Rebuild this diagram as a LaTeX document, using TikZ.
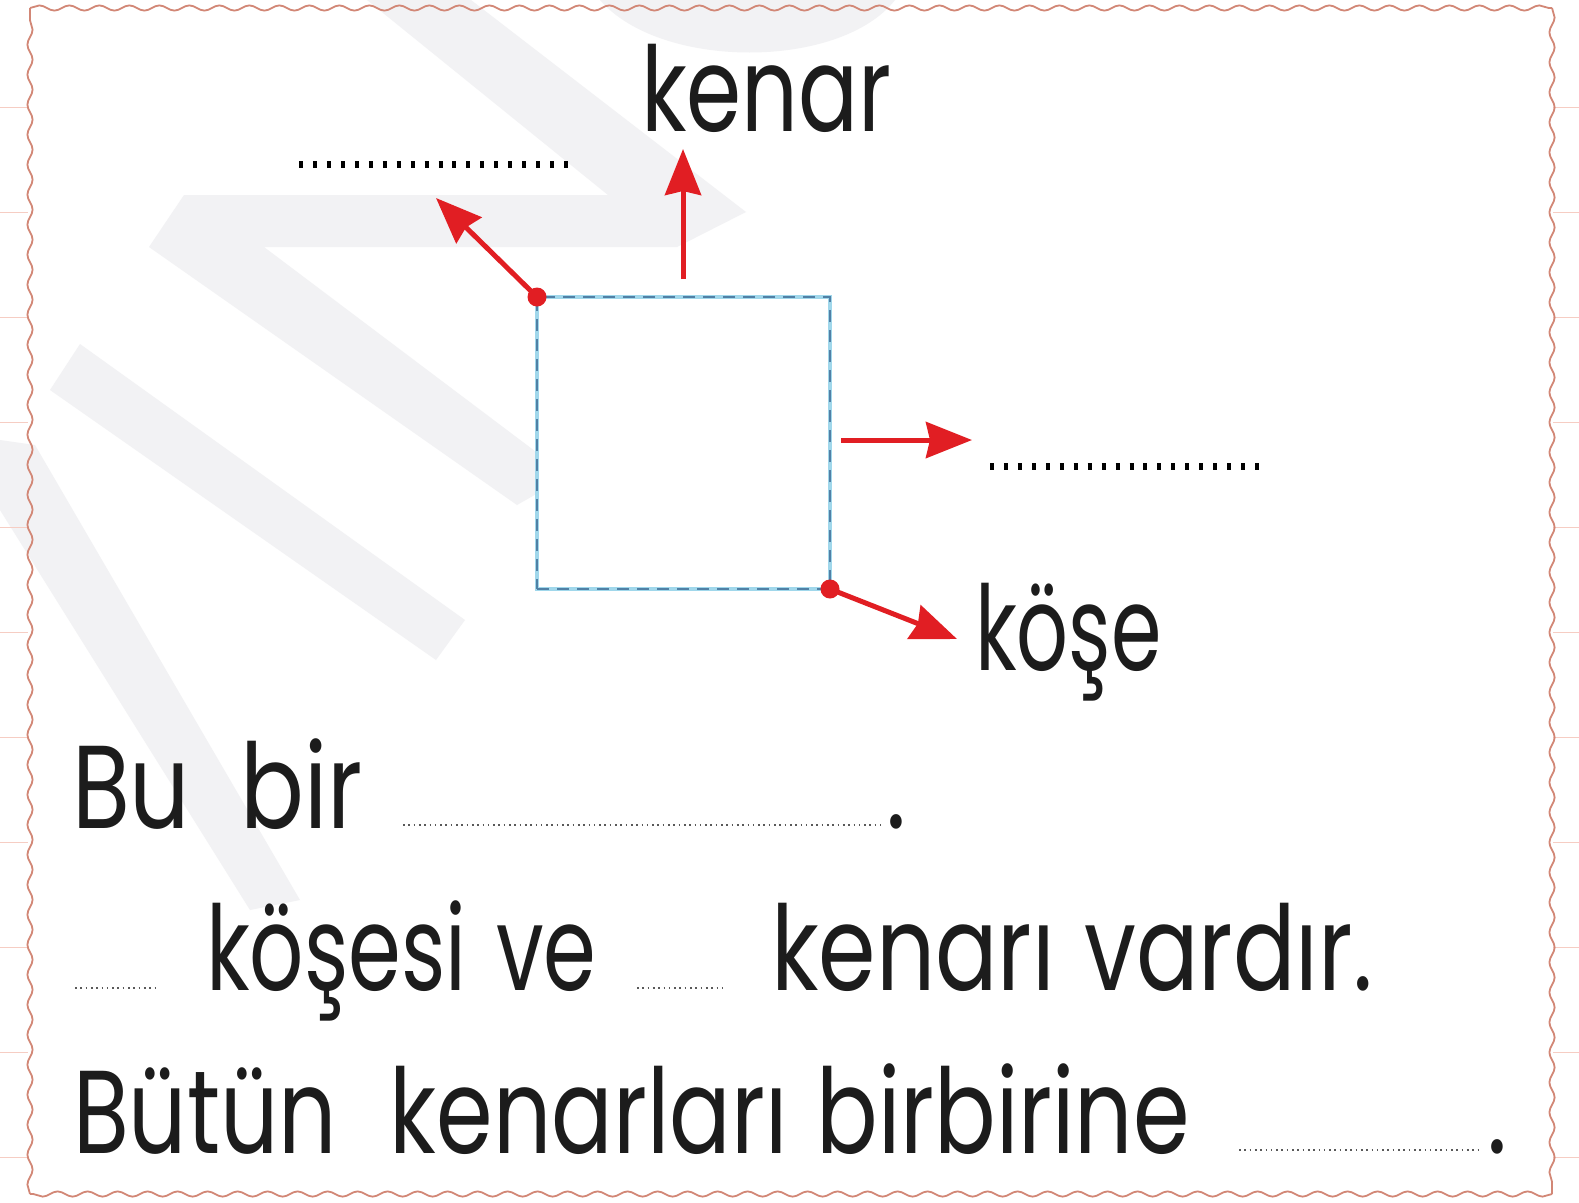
\documentclass[tikz,border=0pt]{standalone}
\usepackage{graphicx}
\usepackage{fontspec}
\setmainfont{Poppins}[FakeStretch=0.8]
\usetikzlibrary{decorations.pathmorphing,arrows.meta}
\definecolor{wmgray}{RGB}{242,242,244}
\definecolor{bordercol}{RGB}{210,135,118}
\definecolor{notecol}{RGB}{246,205,195}
\definecolor{arrred}{RGB}{225,30,35}
\definecolor{sqlight}{RGB}{160,215,235}
\definecolor{sqdark}{RGB}{80,128,165}
\definecolor{inkcol}{RGB}{28,28,28}
\tikzset{
  wm/.style={fill=wmgray},
  wavy/.style={draw=bordercol, line width=1.8pt, decorate,
    decoration={snake, segment length=30pt, amplitude=2.6pt}},
  noteline/.style={draw=notecol, line width=1pt},
  sqbox/.style={draw=sqlight, fill=white, line width=4pt, inner sep=0pt, outer sep=0pt,
    minimum width=293pt, minimum height=292pt,
    postaction={draw=sqdark, line width=2pt, dash pattern=on 12pt off 8pt}},
  reddot/.style={circle, fill=arrred, inner sep=0pt, minimum size=19pt},
  redarrow/.style={draw=arrred, line width=5pt, -{Stealth[length=46pt,width=36pt,inset=4pt]}},
  bigdots/.style={draw=black, line width=7pt, dash pattern=on 4pt off 9.95pt},
  blankdots/.style={draw=black!65, line width=2.5pt, dash pattern=on 1.6pt off 3.7pt},
  txt/.style={inner sep=0pt, outer sep=0pt, anchor=base west, text=inkcol,
    font=\fontsize{118}{130}\selectfont}
}
\begin{document}
\begin{tikzpicture}[x=1pt,y=-1pt]
\useasboundingbox (0,0) rectangle (1579,1202);
\fill[white] (0,0) rectangle (1579,1202);
% watermark
\fill[wm] (367,0) -- (471,0) -- (746,212) -- (677,247) -- (264,247) -- (568,476)
  -- (517,505) -- (149,247) -- (184,195) -- (608,195) -- cycle;
\fill[wm] (80,344) -- (465,620) -- (436,660) -- (50,390) -- cycle;
\fill[wm] (0,440) -- (35,445) -- (300,900) -- (250,910) -- (0,510) -- cycle;
\fill[wm] (600,0) .. controls (660,70) and (840,70) .. (895,0) -- cycle;
% notebook lines outside the frame
\foreach \k in {0,...,10} {
  \draw[noteline] (0,107+105*\k) -- (28,107+105*\k);
  \draw[noteline] (1553,107+105*\k) -- (1579,107+105*\k);
}
% wavy frame
\draw[wavy] (30,8) -- (1552,8);
\draw[wavy] (1552,8) -- (1552,1194);
\draw[wavy] (1552,1194) -- (30,1194);
\draw[wavy] (30,1194) -- (30,8);
% square
\node[sqbox] (sq) at (683.5,443) {};
\node[reddot] (dtl) at (sq.north west) {};
\node[reddot] (dbr) at (sq.south east) {};
\coordinate (nwtip) at (436,198);
\coordinate (upstart) at (683,279);
\coordinate (uptip) at (683,149);
\coordinate (rstart) at (841,440);
\coordinate (rtip) at (972,440);
\coordinate (setip) at (957,639);
\draw[redarrow] (dtl.center) -- (nwtip);
\draw[redarrow] (upstart) -- (uptip);
\draw[redarrow] (rstart) -- (rtip);
\draw[redarrow] (dbr.center) -- (setip);
% label blanks
\coordinate (b1a) at (299,164); \coordinate (b1b) at (568,164);
\draw[bigdots] (b1a) -- (b1b);
\coordinate (b2a) at (990,466); \coordinate (b2b) at (1262,466);
\draw[bigdots] (b2a) -- (b2b);
% labels
\node[txt] (kenar) at (641,131) {\scalebox{0.94}[1]{kenar}};
\node[txt] (kose) at (975,670) {\scalebox{0.86}[1]{köşe}};
% sentences
\node[txt] (s1) at (72,828) {Bu\hspace{50pt}bir};
\coordinate (c1a) at (403,825); \coordinate (c1b) at (881,825);
\draw[blankdots] (c1a) -- (c1b);
\node[txt] (p1) at (886,828) {.};
\coordinate (c2a) at (75,988); \coordinate (c2b) at (158,988);
\draw[blankdots] (c2a) -- (c2b);
\node[txt] (s2) at (206,990) {\scalebox{0.9}[1]{köşesi\hspace{33pt}ve}};
\coordinate (c3a) at (637,988); \coordinate (c3b) at (725,988);
\draw[blankdots] (c3a) -- (c3b);
\node[txt] (s3) at (771,990) {\scalebox{0.98}[1]{kenarı\hspace{30pt}vardır.}};
\node[txt] (s4) at (73,1153) {\scalebox{0.965}[1]{Bütün\hspace{55pt}kenarları\hspace{30pt}birbirine}};
\coordinate (c4a) at (1239,1150); \coordinate (c4b) at (1480,1150);
\draw[blankdots] (c4a) -- (c4b);
\node[txt] (p4) at (1487,1153) {.};
\end{tikzpicture}
\end{document}
